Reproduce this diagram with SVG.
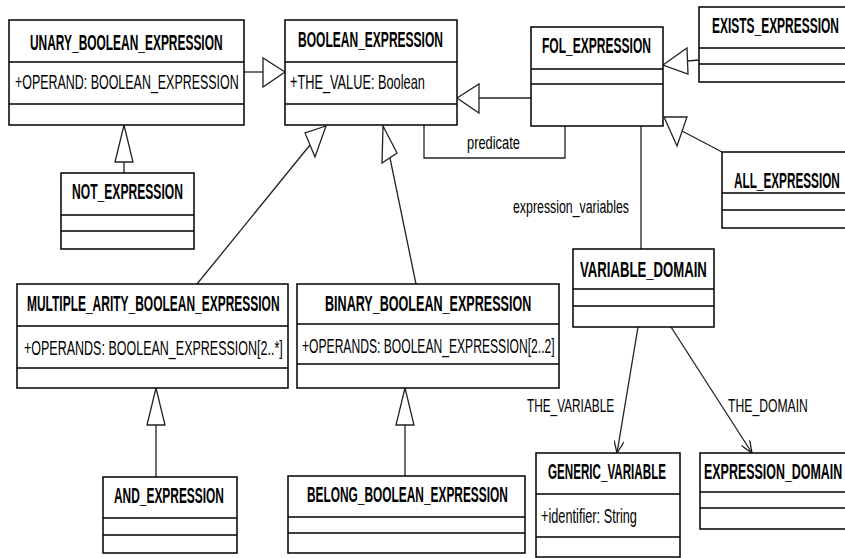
<svg xmlns="http://www.w3.org/2000/svg" width="845" height="558" viewBox="0 0 845 558">
<style>
.box{fill:#fff;stroke:#000;stroke-width:1.5}
.div{stroke:#000;stroke-width:1.3}
.t{font-family:"Liberation Sans",Arial,sans-serif;font-weight:bold;font-size:22px;fill:#000}
.a{font-family:"Liberation Sans",Arial,sans-serif;font-size:21px;fill:#000}
.l{font-family:"Liberation Sans",Arial,sans-serif;font-size:19px;fill:#000}
.ln{fill:none;stroke:#222;stroke-width:1.3}
.tri{fill:#fff;stroke:#222;stroke-width:1.3}
</style>
<defs>
<marker id="open" viewBox="0 0 12 10" refX="12" refY="5" markerWidth="12" markerHeight="10" markerUnits="userSpaceOnUse" orient="auto">
<path d="M0,0 L12,5 L0,10" fill="none" stroke="#222" stroke-width="1.3"/>
</marker>
</defs>
<g id="connectors">
<line class="ln" x1="244" y1="72" x2="263" y2="72"/>
<polygon class="tri" points="285,72 263,58 263,87"/>
<line class="ln" x1="124" y1="173" x2="124" y2="162"/>
<polygon class="tri" points="124,125 115,162 133,162"/>
<line class="ln" x1="197" y1="284" x2="310" y2="145"/>
<polygon class="tri" points="326,126 305,133 315,157"/>
<line class="ln" x1="416" y1="284" x2="390" y2="158"/>
<polygon class="tri" points="383,126 382,163 397,153"/>
<line class="ln" x1="531" y1="98" x2="479" y2="98"/>
<polygon class="tri" points="457,98 479,84 479,113"/>
<line class="ln" x1="699" y1="60" x2="687" y2="61"/>
<polygon class="tri" points="663,65 687,48 688,74"/>
<line class="ln" x1="722" y1="152" x2="682" y2="131"/>
<polygon class="tri" points="664,117 687,117 677,146"/>
<line class="ln" x1="156" y1="477" x2="156" y2="425"/>
<polygon class="tri" points="156,388 147,425 165,425"/>
<line class="ln" x1="405" y1="476" x2="405" y2="425"/>
<polygon class="tri" points="405,388 396,425 414,425"/>
<polyline class="ln" points="424,125 424,158 565,158 565,126"/>
<line class="ln" x1="641" y1="126" x2="641" y2="249"/>
<line class="ln" x1="638" y1="327" x2="617" y2="453" marker-end="url(#open)"/>
<line class="ln" x1="671" y1="327" x2="752" y2="453" marker-end="url(#open)"/>
<text class="l" transform="translate(467,149) scale(0.678,1)">predicate</text>
<text class="l" transform="translate(513,213) scale(0.65,1)">expression_variables</text>
<text class="l" transform="translate(527,412) scale(0.622,1)">THE_VARIABLE</text>
<text class="l" transform="translate(728,412) scale(0.642,1)">THE_DOMAIN</text>
</g>
<g id="unary">
<rect class="box" x="9" y="20" width="235" height="105"/>
<line class="div" x1="9" y1="62" x2="244" y2="62"/><line class="div" x1="9" y1="104" x2="244" y2="104"/>
<text class="t" transform="translate(30,50) scale(0.543,1)">UNARY_BOOLEAN_EXPRESSION</text>
<text class="a" transform="translate(15,89) scale(0.593,1)">+OPERAND: BOOLEAN_EXPRESSION</text>
</g>
<g id="not">
<rect class="box" x="61" y="173" width="133" height="76"/>
<line class="div" x1="61" y1="215" x2="194" y2="215"/><line class="div" x1="61" y1="231" x2="194" y2="231"/>
<text class="t" transform="translate(72,199) scale(0.55,1)">NOT_EXPRESSION</text>
</g>
<g id="boolean">
<rect class="box" x="285" y="20" width="172" height="105"/>
<line class="div" x1="285" y1="62" x2="457" y2="62"/><line class="div" x1="285" y1="104" x2="457" y2="104"/>
<text class="t" transform="translate(298,47) scale(0.547,1)">BOOLEAN_EXPRESSION</text>
<text class="a" transform="translate(290,89) scale(0.608,1)">+THE_VALUE: Boolean</text>
</g>
<g id="fol">
<rect class="box" x="531" y="27" width="132" height="99"/>
<line class="div" x1="531" y1="69" x2="663" y2="69"/><line class="div" x1="531" y1="84" x2="663" y2="84"/>
<text class="t" transform="translate(542,53) scale(0.547,1)">FOL_EXPRESSION</text>
</g>
<g id="exists">
<rect class="box" x="699" y="7" width="160" height="75"/>
<line class="div" x1="699" y1="48" x2="859" y2="48"/><line class="div" x1="699" y1="64" x2="859" y2="64"/>
<text class="t" transform="translate(712,33) scale(0.544,1)">EXISTS_EXPRESSION</text>
</g>
<g id="all">
<rect class="box" x="722" y="152" width="140" height="76"/>
<line class="div" x1="722" y1="193" x2="862" y2="193"/><line class="div" x1="722" y1="210" x2="862" y2="210"/>
<text class="t" transform="translate(734,188) scale(0.535,1)">ALL_EXPRESSION</text>
</g>
<g id="variable_domain">
<rect class="box" x="573" y="249" width="141" height="78"/>
<line class="div" x1="573" y1="289" x2="714" y2="289"/><line class="div" x1="573" y1="306" x2="714" y2="306"/>
<text class="t" transform="translate(580,277) scale(0.598,1)">VARIABLE_DOMAIN</text>
</g>
<g id="multiple">
<rect class="box" x="17" y="284" width="271" height="104"/>
<line class="div" x1="17" y1="326" x2="288" y2="326"/><line class="div" x1="17" y1="368" x2="288" y2="368"/>
<text class="t" transform="translate(27,311) scale(0.545,1)">MULTIPLE_ARITY_BOOLEAN_EXPRESSION</text>
<text class="a" transform="translate(24,355) scale(0.596,1)">+OPERANDS: BOOLEAN_EXPRESSION[2..*]</text>
</g>
<g id="binary">
<rect class="box" x="297" y="284" width="262" height="104"/>
<line class="div" x1="297" y1="324" x2="559" y2="324"/><line class="div" x1="297" y1="364" x2="559" y2="364"/>
<text class="t" transform="translate(325,311) scale(0.572,1)">BINARY_BOOLEAN_EXPRESSION</text>
<text class="a" transform="translate(302,353) scale(0.577,1)">+OPERANDS: BOOLEAN_EXPRESSION[2..2]</text>
</g>
<g id="and">
<rect class="box" x="103" y="477" width="134" height="76"/>
<line class="div" x1="103" y1="518" x2="237" y2="518"/><line class="div" x1="103" y1="535" x2="237" y2="535"/>
<text class="t" transform="translate(114,503) scale(0.542,1)">AND_EXPRESSION</text>
</g>
<g id="belong">
<rect class="box" x="288" y="476" width="237" height="77"/>
<line class="div" x1="288" y1="517" x2="525" y2="517"/><line class="div" x1="288" y1="533" x2="525" y2="533"/>
<text class="t" transform="translate(307,502) scale(0.541,1)">BELONG_BOOLEAN_EXPRESSION</text>
</g>
<g id="generic_variable">
<rect class="box" x="536" y="453" width="144" height="104"/>
<line class="div" x1="536" y1="494" x2="680" y2="494"/><line class="div" x1="536" y1="537" x2="680" y2="537"/>
<text class="t" transform="translate(548,479) scale(0.529,1)">GENERIC_VARIABLE</text>
<text class="a" transform="translate(541,523) scale(0.607,1)">+identifier: String</text>
</g>
<g id="expression_domain">
<rect class="box" x="700" y="453" width="160" height="76"/>
<line class="div" x1="700" y1="492" x2="860" y2="492"/><line class="div" x1="700" y1="508" x2="860" y2="508"/>
<text class="t" transform="translate(704,479) scale(0.566,1)">EXPRESSION_DOMAIN</text>
</g>
</svg>
